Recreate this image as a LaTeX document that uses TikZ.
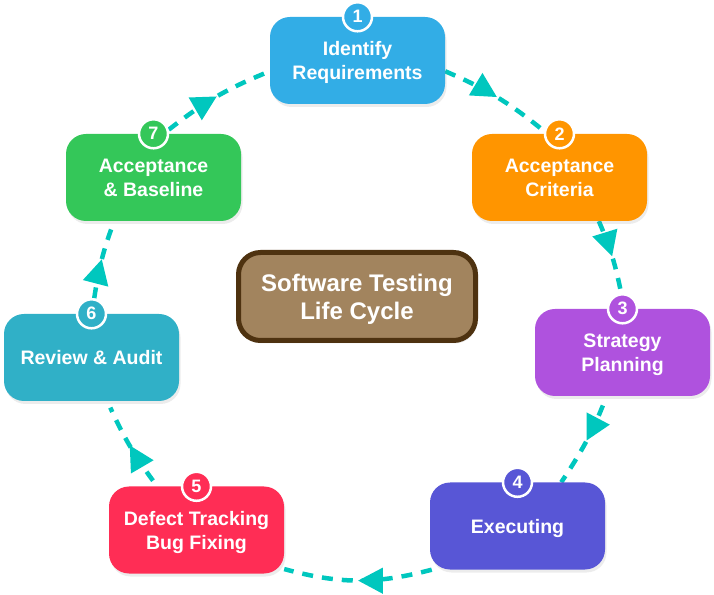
\documentclass[tikz,border=0pt]{standalone}
\usepackage{fontspec}
\setmainfont{Liberation Sans}
\usepackage{xcolor}
\usepackage{tikz}
\usetikzlibrary{positioning,arrows.meta,backgrounds,decorations.markings,shadows}

\definecolor{stblue}{RGB}{50,173,230}
\definecolor{storange}{RGB}{255,149,0}
\definecolor{stpurple}{RGB}{175,82,222}
\definecolor{stindigo}{RGB}{88,86,214}
\definecolor{stred}{RGB}{255,45,85}
\definecolor{stteal}{RGB}{48,176,199}
\definecolor{stgreen}{RGB}{52,199,89}
\definecolor{stbrown}{RGB}{162,132,94}
\definecolor{stbrowndark}{RGB}{78,50,16}
\definecolor{stmint}{RGB}{0,199,190}

\begin{document}
\begin{tikzpicture}[
        x=1pt, y=1pt,
        font=\bfseries\fontsize{19.5}{24}\selectfont,
        stage/.style={fill=#1, text=white, rounded corners=20pt,
                      minimum width=175pt, minimum height=87pt, inner sep=2pt, align=center,
                      text depth=0pt,
                      drop shadow={opacity=0.15, shadow xshift=1.5pt, shadow yshift=-3pt}},
        badge/.style={circle, draw=white, line width=2.5pt, fill=#1, text=white,
                      minimum size=29pt, inner sep=0pt, font=\bfseries\fontsize{18}{18}\selectfont},
        hub/.style={draw=stbrowndark, line width=5pt, fill=stbrown, text=white, rounded corners=22pt,
                    minimum width=237pt, minimum height=88pt, align=center, text depth=0pt,
                    font=\bfseries\fontsize{24}{28}\selectfont,
                    drop shadow={opacity=0.15, shadow xshift=1.5pt, shadow yshift=-3pt}},
        flow/.style={draw=stmint, line width=4.5pt, dash pattern=on 11pt off 9pt, bend left=#1,
                     postaction={decorate},
                     decoration={markings, mark=at position 0.5 with {\arrow{Triangle[length=25pt,width=25pt]}}}}
    ]
    \useasboundingbox (0,0) rectangle (714,594);

    % ---- Hub ----
    \node[hub] (stlc) at (357,297.5) {Software Testing\\Life Cycle};

    % ---- Stages ----
    \node[stage=stblue]   (n1) at (357.5,533.5) {Identify\\Requirements};
    \node[stage=storange] (n2) at (559.5,416.5) {Acceptance\\Criteria};
    \node[stage=stpurple] (n3) at (622.5,241.5) {Strategy\\Planning};
    \node[stage=stindigo] (n4) at (517.5,68)    {Executing};
    \node[stage=stred]    (n5) at (196.5,64)    {Defect Tracking\\Bug Fixing};
    \node[stage=stteal]   (n6) at (91.5,236.5)  {Review \& Audit};
    \node[stage=stgreen]  (n7) at (153.5,416.5) {Acceptance\\\& Baseline};

    % ---- Badges ----
    \node[badge=stblue]   (b1) at (n1.north) {1};
    \node[badge=storange] (b2) at (n2.north) {2};
    \node[badge=stpurple] (b3) at (n3.north) {3};
    \node[badge=stindigo] (b4) at (n4.north) {4};
    \node[badge=stred]    (b5) at (n5.north) {5};
    \node[badge=stteal]   (b6) at (n6.north) {6};
    \node[badge=stgreen]  (b7) at (n7.north) {7};

    % ---- Cycle arrows ----
    \begin{scope}[on background layer]
        \draw[flow=8] (n1.-7) to (b2.170);
        \draw[flow=6] (n2.-48) to (b3.95);
        \draw[flow=6, shorten <=10pt] (n3.-110) to (n4.45);
        \draw[flow=15] (n4.-153) to (n5.-24);
        \draw[flow=6, shorten <=7pt, shorten >=7pt] (n5.132) to (n6.-70);
        \draw[flow=6] (b6.80) to (n7.-132);
        \draw[flow=8] (b7.15) to (n1.187);
    \end{scope}
\end{tikzpicture}
\end{document}
